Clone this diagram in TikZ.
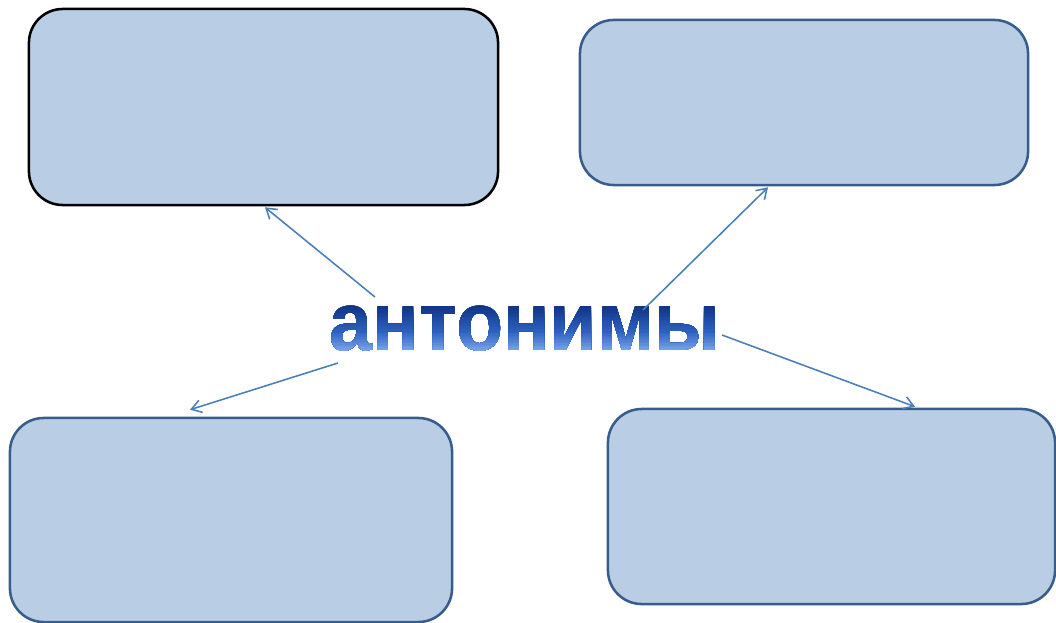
\documentclass[tikz,border=0pt]{standalone}
\usepackage{fontspec}
\newfontfamily\wordfont[FakeStretch=0.93]{Liberation Sans}
\usetikzlibrary{arrows.meta}
\usetikzlibrary{calc}

\definecolor{boxfill}{HTML}{B9CDE5}
\definecolor{boxline}{HTML}{385D8A}
\definecolor{linkblue}{HTML}{4A7EBB}
\definecolor{wordtop}{HTML}{0B2F7E}
\definecolor{wordmid}{HTML}{2E62C2}
\definecolor{wordbot}{HTML}{86B0F0}

\begin{document}
\begin{tikzpicture}[x=0.025cm, y=-0.025cm,
    box/.style={draw=boxline, line width=1.8pt, fill=boxfill, rounded corners=24pt, inner sep=0pt},
    link/.style={draw=linkblue, line width=1.1pt, -{Straight Barb[length=7pt,width=9pt,line width=1.1pt]}},
    word/.style={inner sep=0pt, font=\wordfont\bfseries\fontsize{59}{59}\selectfont}]
    \useasboundingbox (0,0) rectangle (1056,623);

    % draw boxes
    \node[box, draw=black, minimum width=11.725cm, minimum height=4.9cm] (tl) at (263.5,107) {};
    \node[box, minimum width=11.2cm, minimum height=4.125cm] (tr) at (804,102.5) {};
    \node[box, minimum width=11.05cm, minimum height=5.1cm] (bl) at (231,520) {};
    \node[box, minimum width=11.175cm, minimum height=4.875cm] (br) at (831.5,506.5) {};

    % the word, shaded in thin bands (dark top, light bottom)
    \node[word, text opacity=0] (word) at (525,329) {антонимы};
    \foreach \i in {0,...,35} {
        \ifnum\i<21
            \pgfmathtruncatemacro{\p}{100-\i*100/20}
            \colorlet{bandcol}{wordtop!\p!wordmid}
        \else
            \pgfmathtruncatemacro{\p}{100-(\i-20)*100/15}
            \colorlet{bandcol}{wordmid!\p!wordbot}
        \fi
        \begin{scope}
            \clip (300,303+\i*1.45) rectangle (760,365);
            \node[word, text=bandcol] at (word) {антонимы};
        \end{scope}
    }

    % draw arrows
    \coordinate (wa) at (375,297);
    \coordinate (wb) at (643,310);
    \coordinate (wc) at (338,363);
    \coordinate (wd) at (722,335);
    \draw[link] (wa) -- ($(tl.south)+(1.5,1)$);
    \draw[link] (wb) -- ($(tr.south)+(-36,1)$);
    \draw[link] (wc) -- ($(bl.north)+(-41,-7)$);
    \draw[link] (wd) -- ($(br.north)+(83.5,-1)$);
\end{tikzpicture}
\end{document}
